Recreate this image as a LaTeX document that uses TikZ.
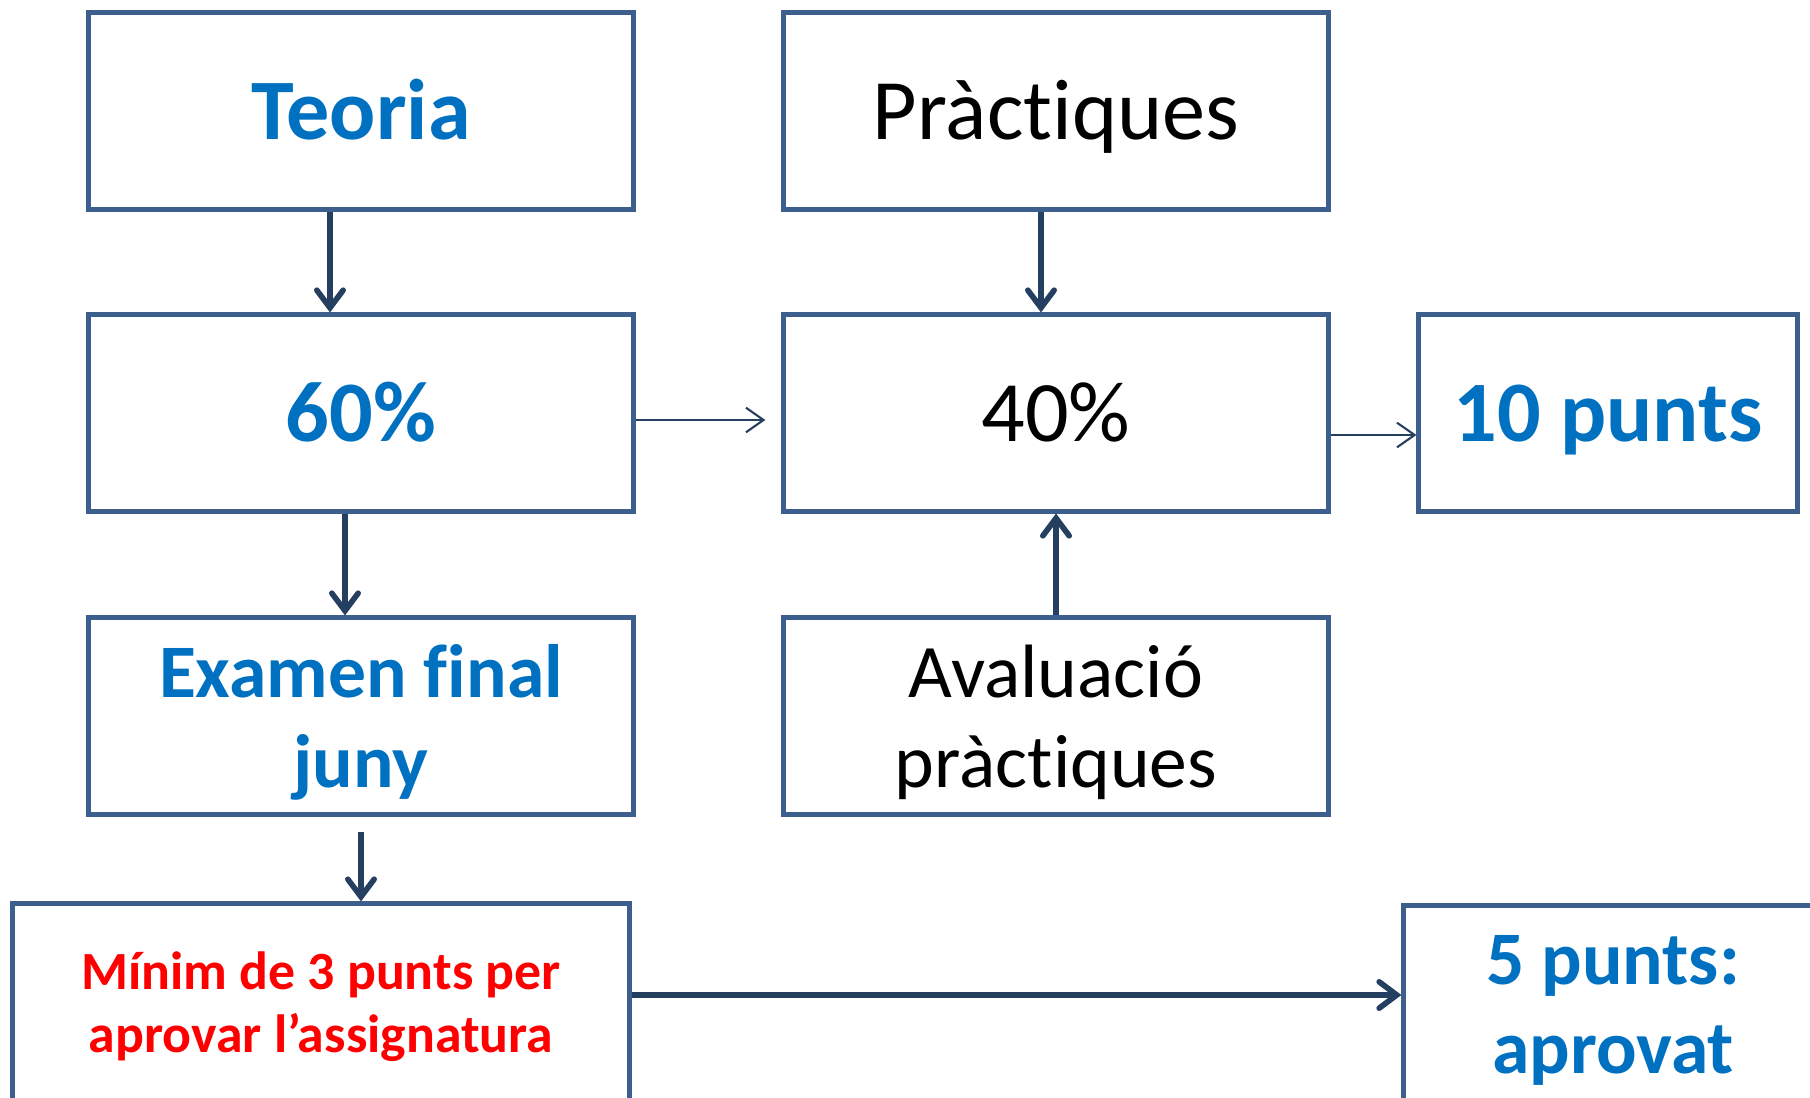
\documentclass[tikz,border=0pt]{standalone}
\usepackage{fontspec}
\setmainfont{Carlito}[Ligatures=NoCommon]
\usetikzlibrary{arrows.meta}
\definecolor{boxline}{HTML}{3C5F8E}
\definecolor{arrline}{HTML}{243F60}
\definecolor{txtblue}{HTML}{0070C0}
\definecolor{txtred}{HTML}{FF0000}
\begin{document}
\begin{tikzpicture}[x=0.01cm,y=-0.01cm,
	box/.style={draw=boxline,line width=1.4pt,minimum width=5.44cm,minimum height=1.96cm,inner sep=0pt,align=center,text depth=0pt},
	big/.style={font=\fontsize{24.5}{29}\selectfont,text height=16.2pt},
	mid/.style={font=\fontsize{21.5}{25.5}\selectfont},
	arr/.style={draw=arrline,line width=1.6pt,-{Straight Barb[length=5pt,width=7.5pt,line cap=round]}},
	thin/.style={draw=arrline,line width=0.6pt,-{Straight Barb[length=5pt,width=7pt]}}]
	\useasboundingbox (0,0) rectangle (1810,1098);
	\node[box,big,text=txtblue] (T) at (361,111) {\bfseries Teoria};
	\node[box,big] (P) at (1056,111) {Pràctiques};
	\node[box,big,text=txtblue] (S) at (361,413) {\bfseries 60\%};
	\node[box,big] (Q) at (1056,413) {40\%};
	\node[box,big,text=txtblue,minimum width=3.78cm] (D) at (1608,413) {\bfseries 10 punts};
	\node[box,mid,text=txtblue] (E) at (361,716) {\bfseries Examen final\\\bfseries juny};
	\node[box,mid] (A) at (1056,716) {Avaluació\\pràctiques};
	\node[box,text=txtred,minimum width=6.16cm,font=\fontsize{15.3}{17.8}\selectfont] (M) at (321,1002) {\bfseries Mínim de 3 punts per\\\bfseries aprovar l’assignatura};
	\node[box,mid,text=txtblue,minimum width=4.18cm,font=\fontsize{21.5}{25.3}\selectfont] (C) at (1613,1004) {\bfseries 5 punts:\\\bfseries aprovat};
	\draw[arr] ([xshift=-3.1mm]T.south) -- ([xshift=-3.1mm]S.north);
	\draw[arr] ([xshift=-1.5mm]P.south) -- ([xshift=-1.5mm]Q.north);
	\draw[thin,shorten >=1.6mm] ([yshift=-0.7mm]S.east) -- ([yshift=-0.7mm]S.east -| Q.west);
	\draw[thin] ([yshift=-2.2mm]Q.east) -- ([yshift=-2.2mm]Q.east -| D.west);
	\draw[arr] ([xshift=-1.6mm]S.south) -- ([xshift=-1.6mm]E.north);
	\draw[arr] (A.north) -- (Q.south);
	\draw[arr,shorten <=1.5mm] (E.south) -- (E.south |- M.north);
	\draw[arr] ([yshift=0.7mm]M.east) -- ([yshift=0.7mm]M.east -| C.west);
\end{tikzpicture}
\end{document}
